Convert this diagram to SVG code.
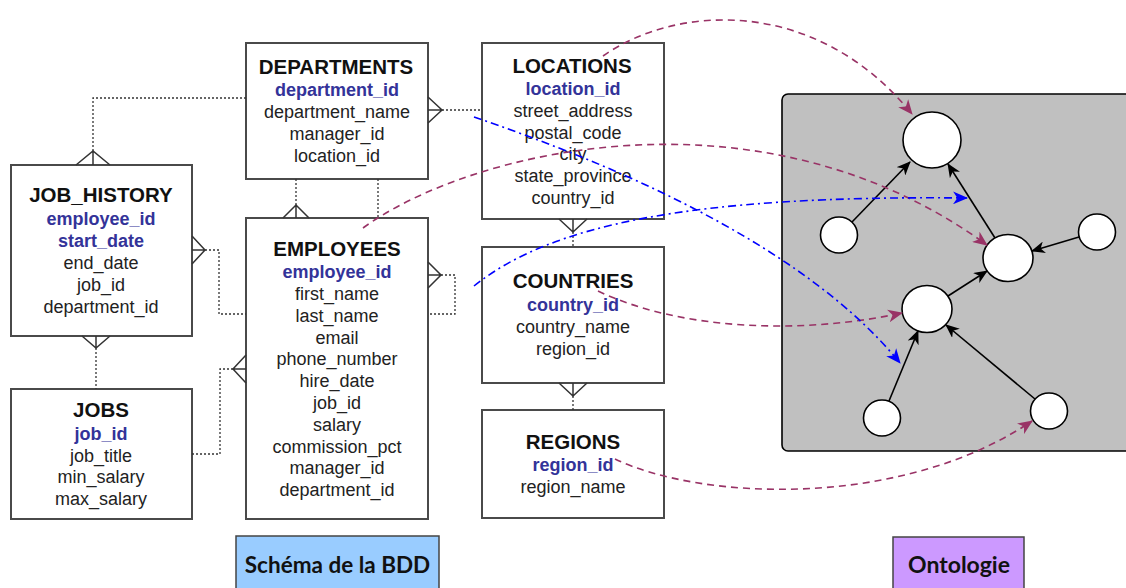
<svg xmlns="http://www.w3.org/2000/svg" width="1126" height="588" viewBox="0 0 1126 588">
<style>
.tbl{fill:#fff;stroke:#4a4a4a;stroke-width:2}
.t{font-family:"Liberation Sans",Arial,sans-serif;text-anchor:middle}
.ti{font-size:20.5px;font-weight:bold;fill:#111}
.pk{font-size:18px;font-weight:bold;fill:#333399}
.f{font-size:18px;fill:#222}
.er{fill:none;stroke:#333;stroke-width:1.3;stroke-dasharray:2,2}
.cf{fill:none;stroke:#333;stroke-width:1.5}
.nd{fill:#fff;stroke:#000;stroke-width:1.6}
.ba{fill:none;stroke:#000;stroke-width:1.6;marker-end:url(#ab)}
.mg{fill:none;stroke:#993366;stroke-width:1.6;stroke-dasharray:7,5;marker-end:url(#am)}
.bl{fill:none;stroke:#0000ff;stroke-width:1.6;stroke-dasharray:8,4,2,4;marker-end:url(#abl)}
.lb{font-family:Lato,"Open Sans",sans-serif;font-weight:bold;fill:#111;text-anchor:middle}
</style>
<defs>
<marker id="ab" viewBox="0 0 14 12" refX="13" refY="6" markerWidth="14" markerHeight="12" markerUnits="userSpaceOnUse" orient="auto"><path d="M0,0 L14,6 L0,12 L4,6 Z" fill="#000"/></marker>
<marker id="am" viewBox="0 0 14 12" refX="13" refY="6" markerWidth="15" markerHeight="13" markerUnits="userSpaceOnUse" orient="auto"><path d="M0,0 L14,6 L0,12 L4,6 Z" fill="#993366"/></marker>
<marker id="abl" viewBox="0 0 14 12" refX="13" refY="6" markerWidth="15" markerHeight="13" markerUnits="userSpaceOnUse" orient="auto"><path d="M0,0 L14,6 L0,12 L4,6 Z" fill="#0000ff"/></marker>
</defs>
<rect width="1126" height="588" fill="#fff"/>

<g id="departments">
<rect class="tbl" x="246" y="43" width="182" height="136"/>
<text class="t ti" x="336" y="74">DEPARTMENTS</text>
<text class="t pk" x="337" y="96">department_id</text>
<text class="t f" x="337" y="118">department_name</text>
<text class="t f" x="337" y="140">manager_id</text>
<text class="t f" x="337" y="162">location_id</text>
</g>

<g id="job_history">
<rect class="tbl" x="11" y="165" width="181" height="171"/>
<text class="t ti" x="101" y="202">JOB_HISTORY</text>
<text class="t pk" x="101" y="225">employee_id</text>
<text class="t pk" x="101" y="247">start_date</text>
<text class="t f" x="101" y="269">end_date</text>
<text class="t f" x="101" y="291">job_id</text>
<text class="t f" x="101" y="313">department_id</text>
</g>

<g id="jobs">
<rect class="tbl" x="11" y="389" width="181" height="130"/>
<text class="t ti" x="101" y="417">JOBS</text>
<text class="t pk" x="101" y="440">job_id</text>
<text class="t f" x="101" y="462">job_title</text>
<text class="t f" x="101" y="483">min_salary</text>
<text class="t f" x="101" y="505">max_salary</text>
</g>

<g id="employees">
<rect class="tbl" x="246" y="218" width="182" height="301"/>
<text class="t ti" x="337" y="256">EMPLOYEES</text>
<text class="t pk" x="337" y="278">employee_id</text>
<text class="t f" x="337" y="300">first_name</text>
<text class="t f" x="337" y="322">last_name</text>
<text class="t f" x="337" y="343.5">email</text>
<text class="t f" x="337" y="365">phone_number</text>
<text class="t f" x="337" y="387">hire_date</text>
<text class="t f" x="337" y="409">job_id</text>
<text class="t f" x="337" y="431">salary</text>
<text class="t f" x="337" y="452.5">commission_pct</text>
<text class="t f" x="337" y="474">manager_id</text>
<text class="t f" x="337" y="496">department_id</text>
</g>

<g id="locations">
<rect class="tbl" x="482" y="43" width="182" height="176"/>
<text class="t ti" x="572" y="73">LOCATIONS</text>
<text class="t pk" x="573" y="95">location_id</text>
<text class="t f" x="573" y="117">street_address</text>
<text class="t f" x="573" y="138.5">postal_code</text>
<text class="t f" x="573" y="160">city</text>
<text class="t f" x="573" y="182">state_province</text>
<text class="t f" x="573" y="203.5">country_id</text>
</g>

<g id="countries">
<rect class="tbl" x="482" y="247" width="182" height="136"/>
<text class="t ti" x="573" y="288">COUNTRIES</text>
<text class="t pk" x="573" y="311">country_id</text>
<text class="t f" x="573" y="333">country_name</text>
<text class="t f" x="573" y="355">region_id</text>
</g>

<g id="regions">
<rect class="tbl" x="482" y="410" width="182" height="108"/>
<text class="t ti" x="573" y="449">REGIONS</text>
<text class="t pk" x="573" y="471">region_id</text>
<text class="t f" x="573" y="493">region_name</text>
</g>

<g id="ontology">
<rect x="782" y="94" width="360" height="357" rx="6" fill="#c0c0c0" stroke="#000" stroke-width="1.6"/>
</g>
<g id="o1"><ellipse class="nd" cx="932" cy="140" rx="29" ry="28"/></g>
<g id="o2"><ellipse class="nd" cx="839" cy="235" rx="18.5" ry="18"/></g>
<g id="o3"><ellipse class="nd" cx="1008" cy="258" rx="25" ry="23.5"/></g>
<g id="o4"><ellipse class="nd" cx="1097" cy="232" rx="18.5" ry="18"/></g>
<g id="o5"><ellipse class="nd" cx="927" cy="309" rx="25" ry="23.5"/></g>
<g id="o6"><ellipse class="nd" cx="882" cy="418" rx="18.5" ry="18"/></g>
<g id="o7"><ellipse class="nd" cx="1049" cy="411" rx="18.5" ry="18"/></g>

<g id="label-bdd">
<rect x="236" y="536" width="203" height="60" fill="#99ccff" stroke="#444" stroke-width="1.5"/>
<text class="lb" x="337.5" y="573" font-size="22.5">Schéma de la BDD</text>
</g>
<g id="label-onto">
<rect x="893" y="537" width="131" height="60" fill="#cc99ff" stroke="#444" stroke-width="1.5"/>
<text class="lb" x="959" y="573" font-size="23">Ontologie</text>
</g>

<g id="connectors">
<!-- ER relations -->
<polyline class="er" points="246,98 93,98 93,151"/>
<path class="cf" d="M76,165 L93,151 L110,165 M93,151 L93,165"/>
<line class="er" x1="442" y1="110" x2="482" y2="110"/>
<path class="cf" d="M428,97 L442,110 L428,123 M428,110 L442,110"/>
<line class="er" x1="296" y1="179" x2="296" y2="205"/>
<path class="cf" d="M283,218 L296,205 L309,218 M296,205 L296,218"/>
<line class="er" x1="378" y1="179" x2="378" y2="218"/>
<polyline class="er" points="205,250 219,250 219,314 246,314"/>
<path class="cf" d="M192,236 L205,250 L192,264 M192,250 L205,250"/>
<line class="er" x1="96" y1="348" x2="96" y2="389"/>
<path class="cf" d="M82,336 L96,348 L110,336 M96,336 L96,348"/>
<polyline class="er" points="233,369 220,369 220,454 192,454"/>
<path class="cf" d="M246,355 L233,369 L246,383 M246,369 L233,369"/>
<polyline class="er" points="441,275 455,275 455,314 428,314"/>
<path class="cf" d="M428,262 L441,275 L428,288 M428,275 L441,275"/>
<line class="er" x1="573" y1="232" x2="573" y2="247"/>
<path class="cf" d="M559,219 L573,232 L587,219 M573,219 L573,232"/>
<line class="er" x1="573" y1="396" x2="573" y2="410"/>
<path class="cf" d="M559,383 L573,396 L587,383 M573,383 L573,396"/>
<!-- ontology relations -->
<line class="ba" x1="852" y1="222" x2="910" y2="162"/>
<line class="ba" x1="995" y1="238" x2="948" y2="164"/>
<line class="ba" x1="1079" y1="237" x2="1032" y2="251"/>
<line class="ba" x1="948" y1="296" x2="987" y2="271"/>
<line class="ba" x1="889" y1="401" x2="918" y2="331"/>
<line class="ba" x1="1035" y1="399" x2="946" y2="325"/>
<!-- mappings -->
<path class="mg" d="M603,56 C675,5 815,-5 912,114"/>
<path class="mg" d="M363,228 C470,150 760,80 987,245"/>
<path class="mg" d="M598,291 C680,330 800,335 902,313"/>
<path class="mg" d="M615,459 C700,500 900,510 1032,421"/>
<path class="bl" d="M474,117 C600,160 800,240 900,363"/>
<path class="bl" d="M474,286 C550,225 690,195 967,198"/>
</g>
</svg>
